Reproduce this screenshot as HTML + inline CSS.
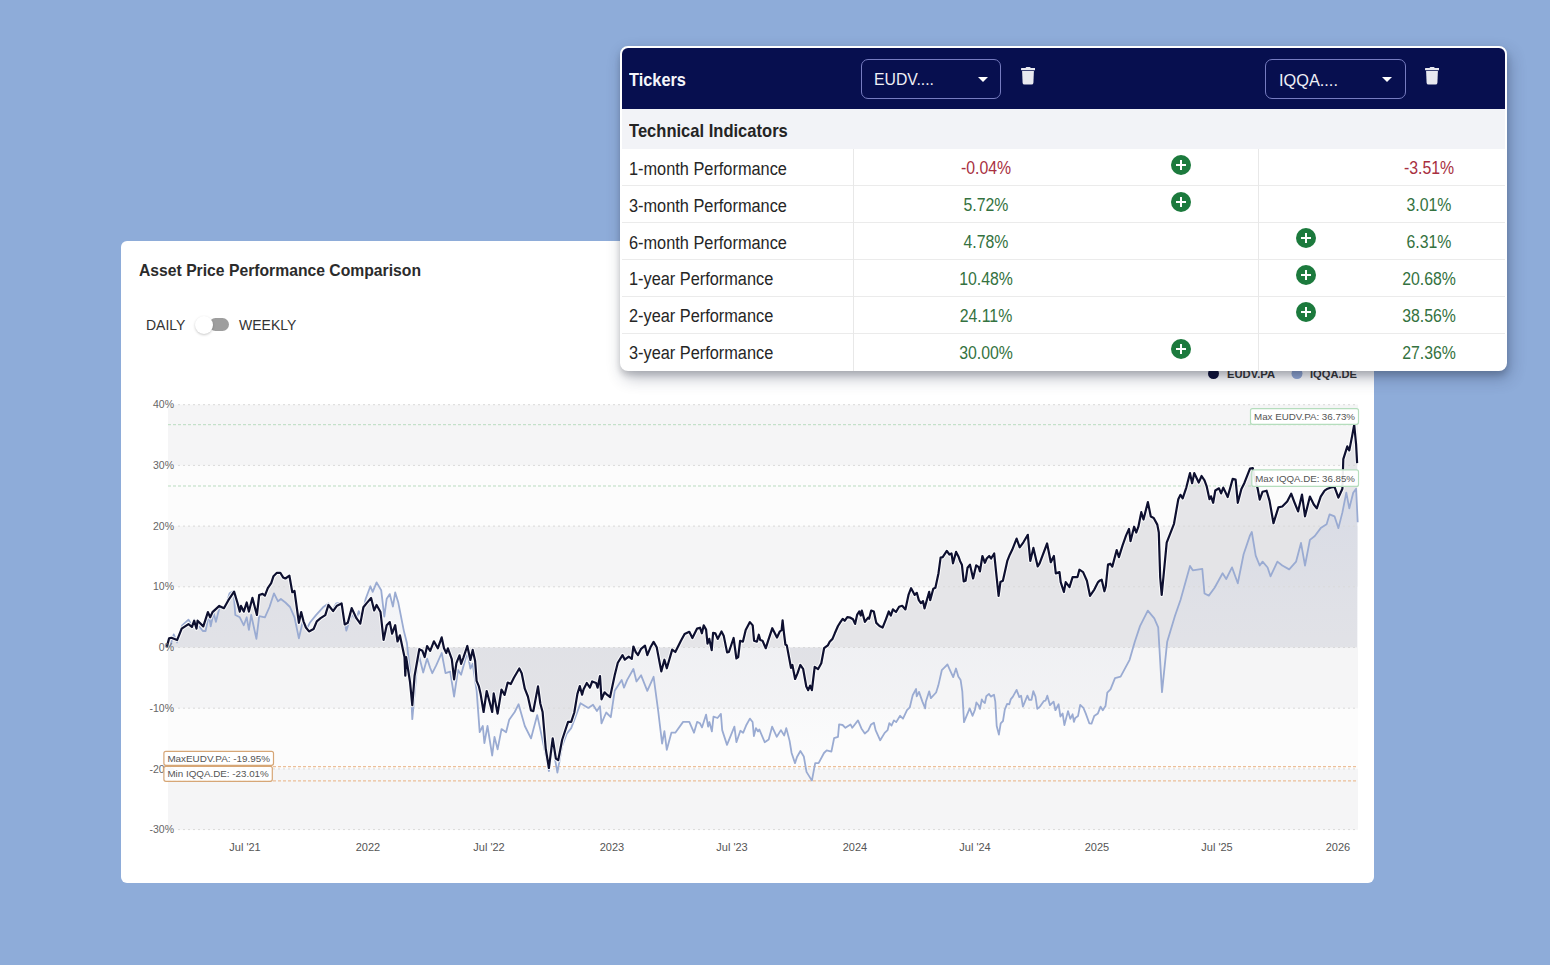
<!DOCTYPE html>
<html><head><meta charset="utf-8">
<style>
html,body{margin:0;padding:0;}
body{width:1550px;height:965px;background:#8eacd9;position:relative;overflow:hidden;font-family:"Liberation Sans",sans-serif;}
.abs{position:absolute;}
#chart{left:121px;top:241px;width:1253px;height:642px;background:#fff;border-radius:6px;}
#ctitle{left:139px;top:261px;font-size:16.5px;font-weight:bold;color:#2b2b2b;white-space:nowrap;transform:scaleX(0.952);transform-origin:0 0;}
.tog{font-size:14px;color:#333;white-space:nowrap;}
#track{left:209px;top:318px;width:20px;height:13px;border-radius:7px;background:#9e9e9e;}
#knob{left:194.5px;top:315.5px;width:18px;height:18px;border-radius:50%;background:#fff;box-shadow:0 1px 2.5px rgba(0,0,0,.22);}
#plot{left:0;top:0;}
#table{left:620px;top:46px;width:883px;height:321px;background:#fff;border:2px solid #fff;border-radius:8px;box-shadow:3px 7px 16px rgba(30,40,70,.30),0 4px 6px rgba(0,0,0,.16);overflow:hidden;}
#thead{left:0;top:0;width:885px;height:62px;background:#070f4f;}
.tl{font-size:17.5px;color:#1e1e1e;white-space:nowrap;}
.sel{border:1px solid #767cc0;border-radius:7px;height:38px;}
.selt{font-size:17px;color:#f4f4f8;white-space:nowrap;}
.arr{width:0;height:0;border-left:5px solid transparent;border-right:5px solid transparent;border-top:5px solid #fff;}
.row{left:0;width:885px;height:1px;background:#ececec;}
.val{font-size:17.5px;white-space:nowrap;text-align:center;width:120px;}
.g{color:#2e7d32;}
.r{color:#c62828;}
.plus{width:20px;height:20px;border-radius:50%;background:#1c7a3d;}
.plus:before{content:"";position:absolute;left:5px;top:9px;width:10px;height:2px;background:#fff;}
.plus:after{content:"";position:absolute;left:9px;top:5px;width:2px;height:10px;background:#fff;}
</style></head>
<body>
<div id="chart" class="abs"></div>
<div id="ctitle" class="abs">Asset Price Performance Comparison</div>
<div class="abs tog" style="left:146px;top:317px;">DAILY</div>
<div id="track" class="abs"></div>
<div id="knob" class="abs"></div>
<div class="abs tog" style="left:239px;top:317px;">WEEKLY</div>

<!--PLOT-->
<svg class="abs" style="left:0;top:0" width="1550" height="965" viewBox="0 0 1550 965">
<defs><linearGradient id="bg" x1="0" y1="0" x2="0" y2="1"><stop offset="0" stop-color="#f5f5f6"/><stop offset="0.3" stop-color="#f7f7f8"/><stop offset="0.42" stop-color="#fafafb"/><stop offset="0.56" stop-color="#fcfcfc"/><stop offset="0.65" stop-color="#f8f8f9"/><stop offset="0.75" stop-color="#fbfbfb"/><stop offset="0.86" stop-color="#f8f8f8"/><stop offset="1" stop-color="#f4f4f5"/></linearGradient><linearGradient id="ar" x1="0" y1="0" x2="0" y2="1" gradientUnits="userSpaceOnUse" x1="0" y1="420" x2="0" y2="780"></linearGradient></defs>
<rect x="168" y="404.7" width="1190" height="424.9" fill="#fcfcfc"/>
<rect x="168" y="404.7" width="1190" height="60.7" fill="#f5f5f6"/>
<rect x="168" y="526.1" width="1190" height="60.7" fill="#f5f5f6"/>
<rect x="168" y="647.5" width="1190" height="60.7" fill="#f5f5f6"/>
<rect x="168" y="768.9" width="1190" height="60.7" fill="#f5f5f6"/>
<polygon points="166.8,647.5 166.8,646.9 169.1,638.4 171.4,637.8 177.1,640.1 181.7,628.7 188.5,624.1 191.9,627.0 194.2,620.7 196.5,628.7 197.6,620.7 203.3,626.4 207.9,612.1 210.2,617.3 212.5,612.1 219.3,605.9 223.9,608.2 228.4,600.2 234.1,591.6 237.5,603.0 239.8,611.6 241.0,605.9 243.8,611.6 246.7,602.5 248.9,611.6 252.4,597.9 256.9,615.0 259.2,595.0 262.6,593.9 264.9,595.6 267.8,588.2 271.2,583.1 273.5,576.2 276.9,572.8 280.3,572.8 283.1,577.4 285.4,578.5 289.4,575.7 292.3,592.2 294.5,591.0 298.9,622.8 301.2,612.0 303.5,621.3 305.9,627.5 309.0,631.4 313.6,629.0 316.8,621.3 320.6,618.2 325.3,615.1 328.4,605.0 333.1,611.2 337.0,605.7 341.6,603.4 344.7,624.4 347.8,622.8 351.7,608.1 356.4,618.2 360.3,623.6 363.4,607.3 366.5,603.4 371.1,598.0 374.2,610.4 376.6,605.0 380.5,612.0 383.6,639.9 386.7,625.2 389.8,622.1 392.1,633.7 395.2,625.2 397.5,641.5 399.9,635.3 404.5,657.0 405.3,675.7 406.1,657.0 410.0,681.9 412.3,705.2 414.6,675.7 419.3,649.2 422.4,650.8 424.7,657.0 427.1,646.1 430.2,650.8 433.9,641.3 437.8,648.3 441.7,637.4 444.0,648.3 446.3,653.0 447.9,648.3 451.8,659.2 454.1,679.4 456.4,663.1 459.5,655.3 461.1,663.8 463.4,657.6 467.3,646.0 470.4,660.0 472.7,649.9 475.1,660.7 476.6,680.9 478.9,686.4 480.5,693.4 483.6,712.0 486.7,691.0 489.8,702.7 492.2,712.0 493.7,693.4 497.6,713.6 501.5,689.5 504.6,694.9 507.7,682.5 510.8,684.0 513.9,677.8 519.3,668.5 521.7,673.2 524.8,688.7 527.9,696.5 531.0,710.5 533.3,711.2 538.0,686.4 540.3,703.5 542.6,712.0 545.8,749.3 548.9,768.0 552.7,738.4 555.9,758.6 558.2,760.2 562.1,740.0 566.7,726.0 568.1,721.9 571.2,721.9 574.3,712.5 577.4,693.9 579.8,686.1 582.1,694.7 583.6,689.2 586.8,683.0 589.9,687.7 592.2,681.5 596.1,683.0 597.6,687.7 600.0,676.0 601.5,699.3 604.6,692.3 607.0,694.7 610.1,697.0 614.7,675.3 617.8,662.8 622.5,655.1 624.8,659.7 628.7,656.6 631.8,658.9 633.4,646.5 635.7,652.0 638.0,655.1 641.1,648.8 645.0,645.7 647.3,655.1 650.5,647.3 653.6,641.9 656.7,647.3 661.3,671.4 664.4,659.7 666.8,668.3 672.2,649.6 675.3,652.0 680.8,641.1 684.6,634.1 689.3,631.8 692.4,638.0 697.1,628.6 700.0,627.7 701.9,633.3 703.7,625.4 706.1,629.6 707.5,643.6 709.3,638.9 711.7,650.1 713.1,632.9 715.4,633.3 717.7,638.9 721.5,631.5 723.8,636.1 727.1,652.4 728.9,652.0 733.6,638.0 736.4,658.5 738.2,657.1 740.1,640.8 742.9,641.7 745.7,630.1 749.9,622.1 752.7,625.4 754.1,640.8 756.9,641.7 758.8,634.7 760.2,639.9 762.5,640.8 765.8,648.2 768.1,640.8 772.3,628.2 777.0,637.5 779.8,631.5 781.6,630.1 782.6,620.3 784.0,633.3 785.4,644.5 786.8,645.4 791.0,667.8 792.4,665.0 795.1,679.0 797.5,673.4 800.3,665.0 803.1,668.8 806.3,686.5 808.2,690.2 810.1,685.6 811.9,690.2 814.7,666.9 818.0,669.2 821.3,663.2 824.1,648.2 827.8,645.4 829.7,641.7 832.5,638.9 834.8,633.3 838.0,626.0 840.6,621.9 842.7,618.8 844.7,620.8 847.3,617.2 850.4,617.7 853.0,619.3 855.1,623.9 857.2,614.6 859.2,611.5 860.8,615.6 861.8,610.5 864.9,621.9 868.1,617.7 869.1,618.8 871.2,610.5 873.8,611.5 876.3,622.9 879.5,626.0 882.6,627.6 885.7,619.8 888.8,611.5 890.8,615.6 892.9,609.4 896.0,612.0 899.1,606.8 902.2,605.8 905.4,609.4 908.5,594.9 911.1,588.2 914.7,594.9 916.8,592.8 918.8,600.1 920.9,603.2 923.0,601.1 924.5,608.4 929.2,591.8 930.2,600.1 933.3,588.7 935.4,587.7 938.5,573.2 940.6,557.6 942.7,557.1 946.8,550.9 949.4,554.5 951.5,553.5 953.0,563.3 956.1,551.9 958.7,557.1 960.0,560.9 961.9,564.7 963.7,581.5 965.6,580.8 967.5,567.8 970.0,564.7 973.1,578.4 976.2,565.3 978.7,567.2 979.9,571.5 982.4,556.0 984.9,562.8 986.7,558.5 989.2,556.0 991.1,558.5 994.2,553.5 996.1,572.1 998.6,595.8 1000.4,582.1 1002.9,580.8 1007.3,560.9 1009.8,554.7 1012.2,549.8 1016.6,538.6 1019.7,547.3 1023.4,542.3 1027.8,534.8 1030.3,560.9 1033.4,547.9 1037.7,566.5 1039.6,563.4 1047.1,543.5 1050.8,562.2 1053.9,556.0 1055.8,573.4 1059.5,572.1 1060.7,582.1 1063.9,592.0 1065.7,582.1 1069.5,587.1 1072.6,577.1 1077.5,577.1 1079.4,569.7 1083.1,572.1 1086.9,580.8 1090.0,595.8 1094.3,589.6 1098.1,582.1 1100.0,580.4 1101.7,579.7 1104.4,591.3 1105.8,586.2 1108.0,564.5 1110.2,563.7 1112.3,566.6 1116.7,550.0 1118.9,557.2 1122.5,545.6 1126.1,535.4 1129.0,528.9 1130.5,541.2 1134.1,526.7 1136.3,532.5 1138.4,526.7 1141.3,512.2 1143.5,519.5 1147.9,502.1 1150.8,516.6 1153.7,518.0 1157.3,524.6 1158.8,532.5 1160.2,577.5 1161.7,594.9 1163.8,573.2 1166.7,542.7 1174.0,523.8 1178.3,499.2 1180.5,494.8 1182.7,498.4 1186.3,487.6 1190.0,473.1 1192.1,483.2 1194.3,473.1 1198.7,482.5 1201.6,476.0 1204.5,480.3 1206.6,486.1 1209.5,499.2 1211.0,496.3 1213.2,502.8 1215.3,490.5 1219.0,488.3 1221.1,493.4 1223.3,487.6 1227.7,497.0 1232.7,478.9 1235.6,479.6 1237.8,502.8 1241.4,489.0 1244.3,483.2 1250.0,468.7 1252.8,468.1 1255.0,480.0 1257.7,488.7 1259.7,499.6 1262.6,491.7 1266.6,490.7 1269.5,500.6 1273.5,523.2 1278.4,507.4 1282.3,506.5 1287.2,501.5 1291.2,493.7 1294.1,501.5 1298.1,511.4 1302.0,494.6 1305.0,516.3 1309.9,496.6 1313.8,504.5 1316.8,508.4 1320.7,496.6 1324.6,490.7 1327.6,488.7 1331.0,487.5 1334.5,486.8 1338.4,497.6 1342.4,488.7 1343.3,459.2 1347.3,446.4 1349.3,450.4 1352.2,435.6 1354.2,424.8 1356.1,444.4 1357.1,463.1 1357.1,647.5" fill="#e2e2e6" fill-opacity="0.9"/>
<linearGradient id="ag" gradientUnits="userSpaceOnUse" x1="0" y1="486" x2="0" y2="781"><stop offset="0" stop-color="#b8c4e2" stop-opacity="0.28"/><stop offset="0.55" stop-color="#c8cee0" stop-opacity="0.12"/><stop offset="1" stop-color="#d0d4e0" stop-opacity="0"/></linearGradient>
<polygon points="166.8,647.5 166.8,647.0 170.3,645.8 173.7,634.4 177.1,642.4 182.2,625.3 188.5,619.6 193.1,627.5 194.2,619.6 202.8,631.0 205.6,631.0 209.0,613.9 210.7,626.4 213.6,612.7 215.9,621.8 219.3,608.2 225.0,608.2 229.6,593.3 233.5,591.0 235.3,615.0 239.8,617.3 243.8,625.3 246.7,617.3 248.9,629.8 251.2,615.0 256.4,638.9 259.2,616.1 264.9,617.3 269.5,607.0 274.0,593.3 278.0,601.3 280.9,599.0 285.4,602.5 290.0,607.0 294.5,617.3 298.9,638.4 302.8,621.3 307.4,627.5 309.8,622.8 316.0,615.1 323.0,607.3 328.4,603.4 332.3,610.4 336.2,603.4 341.6,602.6 346.3,630.6 351.7,614.3 356.4,619.7 358.7,611.2 361.8,616.6 365.7,598.7 370.4,586.3 372.7,591.8 376.6,582.4 381.2,590.2 384.3,616.6 386.7,598.7 389.8,594.1 392.9,606.5 395.2,592.5 398.3,602.6 403.8,630.6 406.9,643.0 410.0,671.0 412.3,719.2 417.0,666.3 419.3,657.0 423.2,672.5 427.1,658.6 430.2,668.0 432.3,673.2 436.2,665.4 441.7,653.0 445.5,673.2 450.2,671.6 454.1,696.5 458.0,670.0 461.1,674.7 467.3,652.2 470.4,668.5 472.7,663.8 476.6,690.3 479.7,732.2 482.8,726.0 484.4,743.1 487.5,726.0 492.2,755.5 494.5,736.9 497.6,749.3 501.5,729.1 506.1,732.2 509.2,719.8 514.7,712.0 518.6,704.2 524.8,726.0 531.0,738.4 537.2,715.1 541.9,736.9 545.8,755.5 548.9,771.1 552.7,746.2 557.4,772.6 562.1,746.2 566.7,733.8 571.2,728.1 575.9,715.7 580.5,703.2 588.3,707.9 593.0,704.8 596.9,711.0 600.0,706.3 601.5,723.4 606.2,712.5 610.8,717.2 614.7,690.8 621.7,679.9 624.0,687.7 627.2,679.9 633.4,669.0 636.5,681.5 641.1,675.3 647.3,690.8 653.6,676.8 658.2,711.0 662.1,743.6 664.4,731.2 666.8,749.8 671.4,732.7 675.3,732.7 683.1,721.9 689.3,721.9 694.0,732.7 697.1,721.9 700.0,723.3 702.0,727.4 706.1,714.6 708.1,726.7 709.4,722.0 711.9,731.4 713.5,716.6 717.5,718.0 720.9,713.9 722.2,730.1 727.0,744.9 734.4,726.7 736.4,742.2 740.4,730.8 743.1,732.8 746.5,724.7 749.9,718.6 752.6,722.0 753.9,736.1 755.9,728.1 758.0,731.4 759.3,729.4 764.7,742.2 768.7,739.5 772.1,726.7 776.8,736.8 780.9,730.1 784.2,735.5 786.3,728.1 789.6,740.9 791.6,753.0 795.0,763.1 797.0,757.0 800.4,751.0 803.8,756.4 806.5,771.9 811.9,780.6 815.2,763.1 818.6,763.1 824.0,753.0 826.7,750.3 831.4,751.6 834.1,738.2 838.0,736.9 839.1,724.4 842.6,725.0 845.4,727.8 850.5,724.4 852.3,727.8 858.0,720.4 861.4,728.4 864.8,733.5 868.2,730.6 871.1,724.4 873.9,722.7 875.6,730.1 880.2,740.3 884.7,732.9 887.6,730.1 889.3,723.2 891.6,725.5 893.9,720.4 896.2,722.1 900.1,715.8 903.0,718.7 907.0,710.1 909.8,707.3 912.7,695.3 916.1,689.0 916.7,696.4 919.0,691.9 922.4,701.6 925.2,708.4 925.8,702.1 929.2,691.3 930.9,698.2 936.1,692.5 938.3,685.6 941.8,670.2 944.6,667.4 947.5,664.5 950.3,670.8 953.2,677.1 956.0,668.5 958.3,676.5 960.6,679.9 962.3,691.3 964.0,722.1 966.8,715.3 969.7,708.4 972.5,715.8 975.0,709.7 976.4,702.5 978.6,705.2 980.0,708.8 981.8,699.4 983.1,701.6 984.9,703.0 986.3,696.2 989.0,693.9 990.8,696.6 994.0,694.8 995.3,701.6 996.7,726.0 998.9,734.6 1000.7,723.3 1003.0,721.0 1004.8,709.7 1007.1,703.9 1009.3,704.3 1010.7,699.4 1012.9,696.6 1016.6,689.9 1019.3,697.1 1021.1,695.7 1022.9,706.6 1027.4,695.7 1029.2,699.8 1031.5,699.8 1033.3,691.2 1035.5,696.6 1037.3,708.8 1040.0,706.6 1043.7,701.2 1045.5,700.7 1047.3,695.7 1050.0,705.2 1053.6,701.6 1055.4,710.2 1058.6,704.3 1060.4,716.5 1062.6,713.4 1064.4,725.1 1068.0,711.1 1070.3,718.8 1072.6,714.3 1073.9,721.9 1075.3,717.9 1078.0,716.1 1080.2,704.8 1083.4,707.9 1085.7,713.4 1089.3,723.3 1091.5,723.7 1094.2,716.1 1097.9,713.4 1100.6,706.6 1102.8,710.2 1105.5,706.1 1107.3,692.6 1110.5,689.4 1115.0,678.1 1120.6,676.7 1129.6,659.8 1134.8,641.7 1140.0,626.1 1147.8,610.6 1154.3,618.3 1158.2,627.4 1162.0,692.2 1167.2,641.7 1175.0,615.7 1180.5,600.0 1190.0,565.9 1192.8,570.3 1202.3,568.8 1204.5,593.5 1208.8,595.6 1214.6,587.7 1222.6,573.2 1226.2,579.0 1232.0,567.4 1237.8,583.3 1243.6,554.3 1250.0,535.4 1251.8,532.0 1255.7,555.7 1259.7,565.5 1262.6,561.6 1267.6,567.5 1270.5,576.3 1277.4,561.6 1282.3,565.5 1289.2,569.4 1296.1,561.6 1301.0,542.9 1305.0,565.5 1309.9,539.9 1314.8,536.0 1320.7,528.1 1326.6,524.2 1329.6,514.3 1334.5,516.3 1338.4,528.1 1342.4,512.4 1346.3,492.7 1349.3,508.4 1353.2,492.7 1356.1,488.7 1357.7,522.2 1357.7,647.5" fill="url(#ag)"/>
<line x1="178" y1="404.7" x2="1358" y2="404.7" stroke="#d9d9d9" stroke-width="1" stroke-dasharray="2,3"/>
<line x1="178" y1="465.4" x2="1358" y2="465.4" stroke="#d9d9d9" stroke-width="1" stroke-dasharray="2,3"/>
<line x1="178" y1="526.1" x2="1358" y2="526.1" stroke="#d9d9d9" stroke-width="1" stroke-dasharray="2,3"/>
<line x1="178" y1="586.8" x2="1358" y2="586.8" stroke="#d9d9d9" stroke-width="1" stroke-dasharray="2,3"/>
<line x1="178" y1="647.5" x2="1358" y2="647.5" stroke="#d9d9d9" stroke-width="1" stroke-dasharray="2,3"/>
<line x1="178" y1="708.2" x2="1358" y2="708.2" stroke="#d9d9d9" stroke-width="1" stroke-dasharray="2,3"/>
<line x1="178" y1="768.9" x2="1358" y2="768.9" stroke="#d9d9d9" stroke-width="1" stroke-dasharray="2,3"/>
<line x1="178" y1="829.6" x2="1358" y2="829.6" stroke="#d9d9d9" stroke-width="1" stroke-dasharray="2,3"/>
<line x1="168" y1="424.7" x2="1358" y2="424.7" stroke="#b9dcbf" stroke-width="1" stroke-dasharray="3,2"/>
<line x1="168" y1="486.0" x2="1358" y2="486.0" stroke="#b9dcbf" stroke-width="1" stroke-dasharray="3,2"/>
<line x1="168" y1="766.6" x2="1358" y2="766.6" stroke="#ecbf98" stroke-width="1.2" stroke-dasharray="3,2"/>
<line x1="168" y1="780.8" x2="1358" y2="780.8" stroke="#ecbf98" stroke-width="1.2" stroke-dasharray="3,2"/>
<polyline points="166.8,647.0 170.3,645.8 173.7,634.4 177.1,642.4 182.2,625.3 188.5,619.6 193.1,627.5 194.2,619.6 202.8,631.0 205.6,631.0 209.0,613.9 210.7,626.4 213.6,612.7 215.9,621.8 219.3,608.2 225.0,608.2 229.6,593.3 233.5,591.0 235.3,615.0 239.8,617.3 243.8,625.3 246.7,617.3 248.9,629.8 251.2,615.0 256.4,638.9 259.2,616.1 264.9,617.3 269.5,607.0 274.0,593.3 278.0,601.3 280.9,599.0 285.4,602.5 290.0,607.0 294.5,617.3 298.9,638.4 302.8,621.3 307.4,627.5 309.8,622.8 316.0,615.1 323.0,607.3 328.4,603.4 332.3,610.4 336.2,603.4 341.6,602.6 346.3,630.6 351.7,614.3 356.4,619.7 358.7,611.2 361.8,616.6 365.7,598.7 370.4,586.3 372.7,591.8 376.6,582.4 381.2,590.2 384.3,616.6 386.7,598.7 389.8,594.1 392.9,606.5 395.2,592.5 398.3,602.6 403.8,630.6 406.9,643.0 410.0,671.0 412.3,719.2 417.0,666.3 419.3,657.0 423.2,672.5 427.1,658.6 430.2,668.0 432.3,673.2 436.2,665.4 441.7,653.0 445.5,673.2 450.2,671.6 454.1,696.5 458.0,670.0 461.1,674.7 467.3,652.2 470.4,668.5 472.7,663.8 476.6,690.3 479.7,732.2 482.8,726.0 484.4,743.1 487.5,726.0 492.2,755.5 494.5,736.9 497.6,749.3 501.5,729.1 506.1,732.2 509.2,719.8 514.7,712.0 518.6,704.2 524.8,726.0 531.0,738.4 537.2,715.1 541.9,736.9 545.8,755.5 548.9,771.1 552.7,746.2 557.4,772.6 562.1,746.2 566.7,733.8 571.2,728.1 575.9,715.7 580.5,703.2 588.3,707.9 593.0,704.8 596.9,711.0 600.0,706.3 601.5,723.4 606.2,712.5 610.8,717.2 614.7,690.8 621.7,679.9 624.0,687.7 627.2,679.9 633.4,669.0 636.5,681.5 641.1,675.3 647.3,690.8 653.6,676.8 658.2,711.0 662.1,743.6 664.4,731.2 666.8,749.8 671.4,732.7 675.3,732.7 683.1,721.9 689.3,721.9 694.0,732.7 697.1,721.9 700.0,723.3 702.0,727.4 706.1,714.6 708.1,726.7 709.4,722.0 711.9,731.4 713.5,716.6 717.5,718.0 720.9,713.9 722.2,730.1 727.0,744.9 734.4,726.7 736.4,742.2 740.4,730.8 743.1,732.8 746.5,724.7 749.9,718.6 752.6,722.0 753.9,736.1 755.9,728.1 758.0,731.4 759.3,729.4 764.7,742.2 768.7,739.5 772.1,726.7 776.8,736.8 780.9,730.1 784.2,735.5 786.3,728.1 789.6,740.9 791.6,753.0 795.0,763.1 797.0,757.0 800.4,751.0 803.8,756.4 806.5,771.9 811.9,780.6 815.2,763.1 818.6,763.1 824.0,753.0 826.7,750.3 831.4,751.6 834.1,738.2 838.0,736.9 839.1,724.4 842.6,725.0 845.4,727.8 850.5,724.4 852.3,727.8 858.0,720.4 861.4,728.4 864.8,733.5 868.2,730.6 871.1,724.4 873.9,722.7 875.6,730.1 880.2,740.3 884.7,732.9 887.6,730.1 889.3,723.2 891.6,725.5 893.9,720.4 896.2,722.1 900.1,715.8 903.0,718.7 907.0,710.1 909.8,707.3 912.7,695.3 916.1,689.0 916.7,696.4 919.0,691.9 922.4,701.6 925.2,708.4 925.8,702.1 929.2,691.3 930.9,698.2 936.1,692.5 938.3,685.6 941.8,670.2 944.6,667.4 947.5,664.5 950.3,670.8 953.2,677.1 956.0,668.5 958.3,676.5 960.6,679.9 962.3,691.3 964.0,722.1 966.8,715.3 969.7,708.4 972.5,715.8 975.0,709.7 976.4,702.5 978.6,705.2 980.0,708.8 981.8,699.4 983.1,701.6 984.9,703.0 986.3,696.2 989.0,693.9 990.8,696.6 994.0,694.8 995.3,701.6 996.7,726.0 998.9,734.6 1000.7,723.3 1003.0,721.0 1004.8,709.7 1007.1,703.9 1009.3,704.3 1010.7,699.4 1012.9,696.6 1016.6,689.9 1019.3,697.1 1021.1,695.7 1022.9,706.6 1027.4,695.7 1029.2,699.8 1031.5,699.8 1033.3,691.2 1035.5,696.6 1037.3,708.8 1040.0,706.6 1043.7,701.2 1045.5,700.7 1047.3,695.7 1050.0,705.2 1053.6,701.6 1055.4,710.2 1058.6,704.3 1060.4,716.5 1062.6,713.4 1064.4,725.1 1068.0,711.1 1070.3,718.8 1072.6,714.3 1073.9,721.9 1075.3,717.9 1078.0,716.1 1080.2,704.8 1083.4,707.9 1085.7,713.4 1089.3,723.3 1091.5,723.7 1094.2,716.1 1097.9,713.4 1100.6,706.6 1102.8,710.2 1105.5,706.1 1107.3,692.6 1110.5,689.4 1115.0,678.1 1120.6,676.7 1129.6,659.8 1134.8,641.7 1140.0,626.1 1147.8,610.6 1154.3,618.3 1158.2,627.4 1162.0,692.2 1167.2,641.7 1175.0,615.7 1180.5,600.0 1190.0,565.9 1192.8,570.3 1202.3,568.8 1204.5,593.5 1208.8,595.6 1214.6,587.7 1222.6,573.2 1226.2,579.0 1232.0,567.4 1237.8,583.3 1243.6,554.3 1250.0,535.4 1251.8,532.0 1255.7,555.7 1259.7,565.5 1262.6,561.6 1267.6,567.5 1270.5,576.3 1277.4,561.6 1282.3,565.5 1289.2,569.4 1296.1,561.6 1301.0,542.9 1305.0,565.5 1309.9,539.9 1314.8,536.0 1320.7,528.1 1326.6,524.2 1329.6,514.3 1334.5,516.3 1338.4,528.1 1342.4,512.4 1346.3,492.7 1349.3,508.4 1353.2,492.7 1356.1,488.7 1357.7,522.2" fill="none" stroke="#9aabd2" stroke-width="1.8" stroke-linejoin="round"/>
<polyline points="166.8,646.9 169.1,638.4 171.4,637.8 177.1,640.1 181.7,628.7 188.5,624.1 191.9,627.0 194.2,620.7 196.5,628.7 197.6,620.7 203.3,626.4 207.9,612.1 210.2,617.3 212.5,612.1 219.3,605.9 223.9,608.2 228.4,600.2 234.1,591.6 237.5,603.0 239.8,611.6 241.0,605.9 243.8,611.6 246.7,602.5 248.9,611.6 252.4,597.9 256.9,615.0 259.2,595.0 262.6,593.9 264.9,595.6 267.8,588.2 271.2,583.1 273.5,576.2 276.9,572.8 280.3,572.8 283.1,577.4 285.4,578.5 289.4,575.7 292.3,592.2 294.5,591.0 298.9,622.8 301.2,612.0 303.5,621.3 305.9,627.5 309.0,631.4 313.6,629.0 316.8,621.3 320.6,618.2 325.3,615.1 328.4,605.0 333.1,611.2 337.0,605.7 341.6,603.4 344.7,624.4 347.8,622.8 351.7,608.1 356.4,618.2 360.3,623.6 363.4,607.3 366.5,603.4 371.1,598.0 374.2,610.4 376.6,605.0 380.5,612.0 383.6,639.9 386.7,625.2 389.8,622.1 392.1,633.7 395.2,625.2 397.5,641.5 399.9,635.3 404.5,657.0 405.3,675.7 406.1,657.0 410.0,681.9 412.3,705.2 414.6,675.7 419.3,649.2 422.4,650.8 424.7,657.0 427.1,646.1 430.2,650.8 433.9,641.3 437.8,648.3 441.7,637.4 444.0,648.3 446.3,653.0 447.9,648.3 451.8,659.2 454.1,679.4 456.4,663.1 459.5,655.3 461.1,663.8 463.4,657.6 467.3,646.0 470.4,660.0 472.7,649.9 475.1,660.7 476.6,680.9 478.9,686.4 480.5,693.4 483.6,712.0 486.7,691.0 489.8,702.7 492.2,712.0 493.7,693.4 497.6,713.6 501.5,689.5 504.6,694.9 507.7,682.5 510.8,684.0 513.9,677.8 519.3,668.5 521.7,673.2 524.8,688.7 527.9,696.5 531.0,710.5 533.3,711.2 538.0,686.4 540.3,703.5 542.6,712.0 545.8,749.3 548.9,768.0 552.7,738.4 555.9,758.6 558.2,760.2 562.1,740.0 566.7,726.0 568.1,721.9 571.2,721.9 574.3,712.5 577.4,693.9 579.8,686.1 582.1,694.7 583.6,689.2 586.8,683.0 589.9,687.7 592.2,681.5 596.1,683.0 597.6,687.7 600.0,676.0 601.5,699.3 604.6,692.3 607.0,694.7 610.1,697.0 614.7,675.3 617.8,662.8 622.5,655.1 624.8,659.7 628.7,656.6 631.8,658.9 633.4,646.5 635.7,652.0 638.0,655.1 641.1,648.8 645.0,645.7 647.3,655.1 650.5,647.3 653.6,641.9 656.7,647.3 661.3,671.4 664.4,659.7 666.8,668.3 672.2,649.6 675.3,652.0 680.8,641.1 684.6,634.1 689.3,631.8 692.4,638.0 697.1,628.6 700.0,627.7 701.9,633.3 703.7,625.4 706.1,629.6 707.5,643.6 709.3,638.9 711.7,650.1 713.1,632.9 715.4,633.3 717.7,638.9 721.5,631.5 723.8,636.1 727.1,652.4 728.9,652.0 733.6,638.0 736.4,658.5 738.2,657.1 740.1,640.8 742.9,641.7 745.7,630.1 749.9,622.1 752.7,625.4 754.1,640.8 756.9,641.7 758.8,634.7 760.2,639.9 762.5,640.8 765.8,648.2 768.1,640.8 772.3,628.2 777.0,637.5 779.8,631.5 781.6,630.1 782.6,620.3 784.0,633.3 785.4,644.5 786.8,645.4 791.0,667.8 792.4,665.0 795.1,679.0 797.5,673.4 800.3,665.0 803.1,668.8 806.3,686.5 808.2,690.2 810.1,685.6 811.9,690.2 814.7,666.9 818.0,669.2 821.3,663.2 824.1,648.2 827.8,645.4 829.7,641.7 832.5,638.9 834.8,633.3 838.0,626.0 840.6,621.9 842.7,618.8 844.7,620.8 847.3,617.2 850.4,617.7 853.0,619.3 855.1,623.9 857.2,614.6 859.2,611.5 860.8,615.6 861.8,610.5 864.9,621.9 868.1,617.7 869.1,618.8 871.2,610.5 873.8,611.5 876.3,622.9 879.5,626.0 882.6,627.6 885.7,619.8 888.8,611.5 890.8,615.6 892.9,609.4 896.0,612.0 899.1,606.8 902.2,605.8 905.4,609.4 908.5,594.9 911.1,588.2 914.7,594.9 916.8,592.8 918.8,600.1 920.9,603.2 923.0,601.1 924.5,608.4 929.2,591.8 930.2,600.1 933.3,588.7 935.4,587.7 938.5,573.2 940.6,557.6 942.7,557.1 946.8,550.9 949.4,554.5 951.5,553.5 953.0,563.3 956.1,551.9 958.7,557.1 960.0,560.9 961.9,564.7 963.7,581.5 965.6,580.8 967.5,567.8 970.0,564.7 973.1,578.4 976.2,565.3 978.7,567.2 979.9,571.5 982.4,556.0 984.9,562.8 986.7,558.5 989.2,556.0 991.1,558.5 994.2,553.5 996.1,572.1 998.6,595.8 1000.4,582.1 1002.9,580.8 1007.3,560.9 1009.8,554.7 1012.2,549.8 1016.6,538.6 1019.7,547.3 1023.4,542.3 1027.8,534.8 1030.3,560.9 1033.4,547.9 1037.7,566.5 1039.6,563.4 1047.1,543.5 1050.8,562.2 1053.9,556.0 1055.8,573.4 1059.5,572.1 1060.7,582.1 1063.9,592.0 1065.7,582.1 1069.5,587.1 1072.6,577.1 1077.5,577.1 1079.4,569.7 1083.1,572.1 1086.9,580.8 1090.0,595.8 1094.3,589.6 1098.1,582.1 1100.0,580.4 1101.7,579.7 1104.4,591.3 1105.8,586.2 1108.0,564.5 1110.2,563.7 1112.3,566.6 1116.7,550.0 1118.9,557.2 1122.5,545.6 1126.1,535.4 1129.0,528.9 1130.5,541.2 1134.1,526.7 1136.3,532.5 1138.4,526.7 1141.3,512.2 1143.5,519.5 1147.9,502.1 1150.8,516.6 1153.7,518.0 1157.3,524.6 1158.8,532.5 1160.2,577.5 1161.7,594.9 1163.8,573.2 1166.7,542.7 1174.0,523.8 1178.3,499.2 1180.5,494.8 1182.7,498.4 1186.3,487.6 1190.0,473.1 1192.1,483.2 1194.3,473.1 1198.7,482.5 1201.6,476.0 1204.5,480.3 1206.6,486.1 1209.5,499.2 1211.0,496.3 1213.2,502.8 1215.3,490.5 1219.0,488.3 1221.1,493.4 1223.3,487.6 1227.7,497.0 1232.7,478.9 1235.6,479.6 1237.8,502.8 1241.4,489.0 1244.3,483.2 1250.0,468.7 1252.8,468.1 1255.0,480.0 1257.7,488.7 1259.7,499.6 1262.6,491.7 1266.6,490.7 1269.5,500.6 1273.5,523.2 1278.4,507.4 1282.3,506.5 1287.2,501.5 1291.2,493.7 1294.1,501.5 1298.1,511.4 1302.0,494.6 1305.0,516.3 1309.9,496.6 1313.8,504.5 1316.8,508.4 1320.7,496.6 1324.6,490.7 1327.6,488.7 1331.0,487.5 1334.5,486.8 1338.4,497.6 1342.4,488.7 1343.3,459.2 1347.3,446.4 1349.3,450.4 1352.2,435.6 1354.2,424.8 1356.1,444.4 1357.1,463.1" fill="none" stroke="#ffffff" stroke-opacity="0.85" stroke-width="4.2" stroke-linejoin="round"/>
<polyline points="166.8,646.9 169.1,638.4 171.4,637.8 177.1,640.1 181.7,628.7 188.5,624.1 191.9,627.0 194.2,620.7 196.5,628.7 197.6,620.7 203.3,626.4 207.9,612.1 210.2,617.3 212.5,612.1 219.3,605.9 223.9,608.2 228.4,600.2 234.1,591.6 237.5,603.0 239.8,611.6 241.0,605.9 243.8,611.6 246.7,602.5 248.9,611.6 252.4,597.9 256.9,615.0 259.2,595.0 262.6,593.9 264.9,595.6 267.8,588.2 271.2,583.1 273.5,576.2 276.9,572.8 280.3,572.8 283.1,577.4 285.4,578.5 289.4,575.7 292.3,592.2 294.5,591.0 298.9,622.8 301.2,612.0 303.5,621.3 305.9,627.5 309.0,631.4 313.6,629.0 316.8,621.3 320.6,618.2 325.3,615.1 328.4,605.0 333.1,611.2 337.0,605.7 341.6,603.4 344.7,624.4 347.8,622.8 351.7,608.1 356.4,618.2 360.3,623.6 363.4,607.3 366.5,603.4 371.1,598.0 374.2,610.4 376.6,605.0 380.5,612.0 383.6,639.9 386.7,625.2 389.8,622.1 392.1,633.7 395.2,625.2 397.5,641.5 399.9,635.3 404.5,657.0 405.3,675.7 406.1,657.0 410.0,681.9 412.3,705.2 414.6,675.7 419.3,649.2 422.4,650.8 424.7,657.0 427.1,646.1 430.2,650.8 433.9,641.3 437.8,648.3 441.7,637.4 444.0,648.3 446.3,653.0 447.9,648.3 451.8,659.2 454.1,679.4 456.4,663.1 459.5,655.3 461.1,663.8 463.4,657.6 467.3,646.0 470.4,660.0 472.7,649.9 475.1,660.7 476.6,680.9 478.9,686.4 480.5,693.4 483.6,712.0 486.7,691.0 489.8,702.7 492.2,712.0 493.7,693.4 497.6,713.6 501.5,689.5 504.6,694.9 507.7,682.5 510.8,684.0 513.9,677.8 519.3,668.5 521.7,673.2 524.8,688.7 527.9,696.5 531.0,710.5 533.3,711.2 538.0,686.4 540.3,703.5 542.6,712.0 545.8,749.3 548.9,768.0 552.7,738.4 555.9,758.6 558.2,760.2 562.1,740.0 566.7,726.0 568.1,721.9 571.2,721.9 574.3,712.5 577.4,693.9 579.8,686.1 582.1,694.7 583.6,689.2 586.8,683.0 589.9,687.7 592.2,681.5 596.1,683.0 597.6,687.7 600.0,676.0 601.5,699.3 604.6,692.3 607.0,694.7 610.1,697.0 614.7,675.3 617.8,662.8 622.5,655.1 624.8,659.7 628.7,656.6 631.8,658.9 633.4,646.5 635.7,652.0 638.0,655.1 641.1,648.8 645.0,645.7 647.3,655.1 650.5,647.3 653.6,641.9 656.7,647.3 661.3,671.4 664.4,659.7 666.8,668.3 672.2,649.6 675.3,652.0 680.8,641.1 684.6,634.1 689.3,631.8 692.4,638.0 697.1,628.6 700.0,627.7 701.9,633.3 703.7,625.4 706.1,629.6 707.5,643.6 709.3,638.9 711.7,650.1 713.1,632.9 715.4,633.3 717.7,638.9 721.5,631.5 723.8,636.1 727.1,652.4 728.9,652.0 733.6,638.0 736.4,658.5 738.2,657.1 740.1,640.8 742.9,641.7 745.7,630.1 749.9,622.1 752.7,625.4 754.1,640.8 756.9,641.7 758.8,634.7 760.2,639.9 762.5,640.8 765.8,648.2 768.1,640.8 772.3,628.2 777.0,637.5 779.8,631.5 781.6,630.1 782.6,620.3 784.0,633.3 785.4,644.5 786.8,645.4 791.0,667.8 792.4,665.0 795.1,679.0 797.5,673.4 800.3,665.0 803.1,668.8 806.3,686.5 808.2,690.2 810.1,685.6 811.9,690.2 814.7,666.9 818.0,669.2 821.3,663.2 824.1,648.2 827.8,645.4 829.7,641.7 832.5,638.9 834.8,633.3 838.0,626.0 840.6,621.9 842.7,618.8 844.7,620.8 847.3,617.2 850.4,617.7 853.0,619.3 855.1,623.9 857.2,614.6 859.2,611.5 860.8,615.6 861.8,610.5 864.9,621.9 868.1,617.7 869.1,618.8 871.2,610.5 873.8,611.5 876.3,622.9 879.5,626.0 882.6,627.6 885.7,619.8 888.8,611.5 890.8,615.6 892.9,609.4 896.0,612.0 899.1,606.8 902.2,605.8 905.4,609.4 908.5,594.9 911.1,588.2 914.7,594.9 916.8,592.8 918.8,600.1 920.9,603.2 923.0,601.1 924.5,608.4 929.2,591.8 930.2,600.1 933.3,588.7 935.4,587.7 938.5,573.2 940.6,557.6 942.7,557.1 946.8,550.9 949.4,554.5 951.5,553.5 953.0,563.3 956.1,551.9 958.7,557.1 960.0,560.9 961.9,564.7 963.7,581.5 965.6,580.8 967.5,567.8 970.0,564.7 973.1,578.4 976.2,565.3 978.7,567.2 979.9,571.5 982.4,556.0 984.9,562.8 986.7,558.5 989.2,556.0 991.1,558.5 994.2,553.5 996.1,572.1 998.6,595.8 1000.4,582.1 1002.9,580.8 1007.3,560.9 1009.8,554.7 1012.2,549.8 1016.6,538.6 1019.7,547.3 1023.4,542.3 1027.8,534.8 1030.3,560.9 1033.4,547.9 1037.7,566.5 1039.6,563.4 1047.1,543.5 1050.8,562.2 1053.9,556.0 1055.8,573.4 1059.5,572.1 1060.7,582.1 1063.9,592.0 1065.7,582.1 1069.5,587.1 1072.6,577.1 1077.5,577.1 1079.4,569.7 1083.1,572.1 1086.9,580.8 1090.0,595.8 1094.3,589.6 1098.1,582.1 1100.0,580.4 1101.7,579.7 1104.4,591.3 1105.8,586.2 1108.0,564.5 1110.2,563.7 1112.3,566.6 1116.7,550.0 1118.9,557.2 1122.5,545.6 1126.1,535.4 1129.0,528.9 1130.5,541.2 1134.1,526.7 1136.3,532.5 1138.4,526.7 1141.3,512.2 1143.5,519.5 1147.9,502.1 1150.8,516.6 1153.7,518.0 1157.3,524.6 1158.8,532.5 1160.2,577.5 1161.7,594.9 1163.8,573.2 1166.7,542.7 1174.0,523.8 1178.3,499.2 1180.5,494.8 1182.7,498.4 1186.3,487.6 1190.0,473.1 1192.1,483.2 1194.3,473.1 1198.7,482.5 1201.6,476.0 1204.5,480.3 1206.6,486.1 1209.5,499.2 1211.0,496.3 1213.2,502.8 1215.3,490.5 1219.0,488.3 1221.1,493.4 1223.3,487.6 1227.7,497.0 1232.7,478.9 1235.6,479.6 1237.8,502.8 1241.4,489.0 1244.3,483.2 1250.0,468.7 1252.8,468.1 1255.0,480.0 1257.7,488.7 1259.7,499.6 1262.6,491.7 1266.6,490.7 1269.5,500.6 1273.5,523.2 1278.4,507.4 1282.3,506.5 1287.2,501.5 1291.2,493.7 1294.1,501.5 1298.1,511.4 1302.0,494.6 1305.0,516.3 1309.9,496.6 1313.8,504.5 1316.8,508.4 1320.7,496.6 1324.6,490.7 1327.6,488.7 1331.0,487.5 1334.5,486.8 1338.4,497.6 1342.4,488.7 1343.3,459.2 1347.3,446.4 1349.3,450.4 1352.2,435.6 1354.2,424.8 1356.1,444.4 1357.1,463.1" fill="none" stroke="#0e1030" stroke-width="2.2" stroke-linejoin="round"/>
<text x="174" y="408.3" text-anchor="end" font-family="Liberation Sans" font-size="10.5" fill="#666">40%</text>
<text x="174" y="469.0" text-anchor="end" font-family="Liberation Sans" font-size="10.5" fill="#666">30%</text>
<text x="174" y="529.7" text-anchor="end" font-family="Liberation Sans" font-size="10.5" fill="#666">20%</text>
<text x="174" y="590.4" text-anchor="end" font-family="Liberation Sans" font-size="10.5" fill="#666">10%</text>
<text x="174" y="651.1" text-anchor="end" font-family="Liberation Sans" font-size="10.5" fill="#666">0%</text>
<text x="174" y="711.8" text-anchor="end" font-family="Liberation Sans" font-size="10.5" fill="#666">-10%</text>
<text x="174" y="772.5" text-anchor="end" font-family="Liberation Sans" font-size="10.5" fill="#666">-20%</text>
<text x="174" y="833.2" text-anchor="end" font-family="Liberation Sans" font-size="10.5" fill="#666">-30%</text>
<text x="245" y="851" text-anchor="middle" font-family="Liberation Sans" font-size="11" fill="#555">Jul '21</text>
<text x="368" y="851" text-anchor="middle" font-family="Liberation Sans" font-size="11" fill="#555">2022</text>
<text x="489" y="851" text-anchor="middle" font-family="Liberation Sans" font-size="11" fill="#555">Jul '22</text>
<text x="612" y="851" text-anchor="middle" font-family="Liberation Sans" font-size="11" fill="#555">2023</text>
<text x="732" y="851" text-anchor="middle" font-family="Liberation Sans" font-size="11" fill="#555">Jul '23</text>
<text x="855" y="851" text-anchor="middle" font-family="Liberation Sans" font-size="11" fill="#555">2024</text>
<text x="975" y="851" text-anchor="middle" font-family="Liberation Sans" font-size="11" fill="#555">Jul '24</text>
<text x="1097" y="851" text-anchor="middle" font-family="Liberation Sans" font-size="11" fill="#555">2025</text>
<text x="1217" y="851" text-anchor="middle" font-family="Liberation Sans" font-size="11" fill="#555">Jul '25</text>
<text x="1338" y="851" text-anchor="middle" font-family="Liberation Sans" font-size="11" fill="#555">2026</text>
<rect x="1250.5" y="408.7" width="108.0" height="15.6" rx="2" fill="#fff" fill-opacity="0.92" stroke="#b5ddbd" stroke-width="1.2"/><text x="1254.0" y="419.9" font-family="Liberation Sans" font-size="9.6" fill="#555" textLength="101.0" lengthAdjust="spacingAndGlyphs">Max EUDV.PA: 36.73%</text>
<rect x="1251.8" y="469.8" width="106.7" height="16.6" rx="2" fill="#fff" fill-opacity="0.92" stroke="#b5ddbd" stroke-width="1.2"/><text x="1255.3" y="481.5" font-family="Liberation Sans" font-size="9.6" fill="#555" textLength="99.7" lengthAdjust="spacingAndGlyphs">Max IQQA.DE: 36.85%</text>
<rect x="163.9" y="751.3" width="109.6" height="14.0" rx="2" fill="#fff" fill-opacity="0.92" stroke="#d6a676" stroke-width="1.2"/><text x="167.4" y="761.7" font-family="Liberation Sans" font-size="9.6" fill="#555" textLength="102.6" lengthAdjust="spacingAndGlyphs">MaxEUDV.PA: -19.95%</text>
<rect x="163.9" y="766.3" width="108.4" height="15.0" rx="2" fill="#fff" fill-opacity="0.92" stroke="#d6a676" stroke-width="1.2"/><text x="167.4" y="777.2" font-family="Liberation Sans" font-size="9.6" fill="#555" textLength="101.4" lengthAdjust="spacingAndGlyphs">Min IQQA.DE: -23.01%</text>
<circle cx="1213.5" cy="373.6" r="5.5" fill="#0b0e35"/>
<text x="1227" y="377.5" font-family="Liberation Sans" font-size="11.5" font-weight="bold" fill="#333" textLength="48" lengthAdjust="spacingAndGlyphs">EUDV.PA</text>
<circle cx="1297" cy="373.6" r="5.5" fill="#93a9d6"/>
<text x="1310" y="377.5" font-family="Liberation Sans" font-size="11.5" font-weight="bold" fill="#333" textLength="47" lengthAdjust="spacingAndGlyphs">IQQA.DE</text>
</svg>
<!--/PLOT-->

<div id="table" class="abs">
  <div id="thead" class="abs"></div>
</div>
<!--TABLE-->
<div class="abs" style="left:622px;top:109px;width:883px;height:40px;background:#f2f3f7;"></div>
<div class="abs" style="left:628.5px;top:69.9px;font-size:19px;line-height:1;font-weight:bold;color:#f5f5fa;white-space:nowrap;transform:scaleX(0.86);transform-origin:0 0;">Tickers</div>
<div class="abs sel" style="left:861px;top:59px;width:138px;"></div>
<div class="abs" style="left:873.7px;top:71.0px;font-size:17.3px;line-height:1;font-weight:normal;color:#f0f0f6;white-space:nowrap;transform:scaleX(0.913);transform-origin:0 0;">EUDV....</div>
<div class="abs arr" style="left:977.5px;top:76.5px;"></div>
<div class="abs" style="left:1021px;top:67px;"><svg width="14" height="17.5" viewBox="0 0 14 17.5"><rect x="4.6" y="0" width="5" height="2" rx="1" fill="#e8e9f0"/><rect x="0" y="0.9" width="14.5" height="2.3" rx="0.6" fill="#e8e9f0"/><path d="M1.1,4.0 L12.9,4.0 L12.4,15.9 Q12.2,17.6 10.5,17.6 L3.5,17.6 Q1.8,17.6 1.6,15.9 Z" fill="#e8e9f0"/></svg></div>
<div class="abs sel" style="left:1265px;top:59px;width:139px;"></div>
<div class="abs" style="left:1278.6px;top:71.8px;font-size:17.3px;line-height:1;font-weight:normal;color:#f0f0f6;white-space:nowrap;transform:scaleX(0.944);transform-origin:0 0;">IQQA....</div>
<div class="abs arr" style="left:1381.5px;top:76.5px;"></div>
<div class="abs" style="left:1425px;top:67px;"><svg width="14" height="17.5" viewBox="0 0 14 17.5"><rect x="4.6" y="0" width="5" height="2" rx="1" fill="#e8e9f0"/><rect x="0" y="0.9" width="14.5" height="2.3" rx="0.6" fill="#e8e9f0"/><path d="M1.1,4.0 L12.9,4.0 L12.4,15.9 Q12.2,17.6 10.5,17.6 L3.5,17.6 Q1.8,17.6 1.6,15.9 Z" fill="#e8e9f0"/></svg></div>
<div class="abs" style="left:628.5px;top:121.6px;font-size:18.6px;line-height:1;font-weight:bold;color:#242424;white-space:nowrap;transform:scaleX(0.89);transform-origin:0 0;">Technical Indicators</div>
<div class="abs" style="left:629.3px;top:159.7px;font-size:18px;line-height:1;font-weight:normal;color:#262626;white-space:nowrap;transform:scaleX(0.907);transform-origin:0 0;">1-month Performance</div>
<div class="abs" style="left:885.5px;top:160.4px;width:200px;text-align:center;font-size:17.6px;line-height:1;color:#a8303f;white-space:nowrap;transform:scaleX(0.9);transform-origin:50% 0;">-0.04%</div>
<div class="abs" style="left:1329.3px;top:160.4px;width:200px;text-align:center;font-size:17.6px;line-height:1;color:#a8303f;white-space:nowrap;transform:scaleX(0.9);transform-origin:50% 0;">-3.51%</div>
<div class="abs plus" style="left:1171.4px;top:154.8px;"></div>
<div class="abs" style="left:629.3px;top:196.6px;font-size:18px;line-height:1;font-weight:normal;color:#262626;white-space:nowrap;transform:scaleX(0.907);transform-origin:0 0;">3-month Performance</div>
<div class="abs" style="left:885.5px;top:197.3px;width:200px;text-align:center;font-size:17.6px;line-height:1;color:#347240;white-space:nowrap;transform:scaleX(0.9);transform-origin:50% 0;">5.72%</div>
<div class="abs" style="left:1329.3px;top:197.3px;width:200px;text-align:center;font-size:17.6px;line-height:1;color:#347240;white-space:nowrap;transform:scaleX(0.9);transform-origin:50% 0;">3.01%</div>
<div class="abs plus" style="left:1171.4px;top:191.6px;"></div>
<div class="abs" style="left:629.3px;top:233.5px;font-size:18px;line-height:1;font-weight:normal;color:#262626;white-space:nowrap;transform:scaleX(0.907);transform-origin:0 0;">6-month Performance</div>
<div class="abs" style="left:885.5px;top:234.2px;width:200px;text-align:center;font-size:17.6px;line-height:1;color:#347240;white-space:nowrap;transform:scaleX(0.9);transform-origin:50% 0;">4.78%</div>
<div class="abs" style="left:1329.3px;top:234.2px;width:200px;text-align:center;font-size:17.6px;line-height:1;color:#347240;white-space:nowrap;transform:scaleX(0.9);transform-origin:50% 0;">6.31%</div>
<div class="abs plus" style="left:1296.0px;top:228.3px;"></div>
<div class="abs" style="left:629.3px;top:270.4px;font-size:18px;line-height:1;font-weight:normal;color:#262626;white-space:nowrap;transform:scaleX(0.907);transform-origin:0 0;">1-year Performance</div>
<div class="abs" style="left:885.5px;top:271.1px;width:200px;text-align:center;font-size:17.6px;line-height:1;color:#347240;white-space:nowrap;transform:scaleX(0.9);transform-origin:50% 0;">10.48%</div>
<div class="abs" style="left:1329.3px;top:271.1px;width:200px;text-align:center;font-size:17.6px;line-height:1;color:#347240;white-space:nowrap;transform:scaleX(0.9);transform-origin:50% 0;">20.68%</div>
<div class="abs plus" style="left:1296.0px;top:265.1px;"></div>
<div class="abs" style="left:629.3px;top:307.3px;font-size:18px;line-height:1;font-weight:normal;color:#262626;white-space:nowrap;transform:scaleX(0.907);transform-origin:0 0;">2-year Performance</div>
<div class="abs" style="left:885.5px;top:308.0px;width:200px;text-align:center;font-size:17.6px;line-height:1;color:#347240;white-space:nowrap;transform:scaleX(0.9);transform-origin:50% 0;">24.11%</div>
<div class="abs" style="left:1329.3px;top:308.0px;width:200px;text-align:center;font-size:17.6px;line-height:1;color:#347240;white-space:nowrap;transform:scaleX(0.9);transform-origin:50% 0;">38.56%</div>
<div class="abs plus" style="left:1296.0px;top:301.8px;"></div>
<div class="abs" style="left:629.3px;top:344.2px;font-size:18px;line-height:1;font-weight:normal;color:#262626;white-space:nowrap;transform:scaleX(0.907);transform-origin:0 0;">3-year Performance</div>
<div class="abs" style="left:885.5px;top:344.9px;width:200px;text-align:center;font-size:17.6px;line-height:1;color:#347240;white-space:nowrap;transform:scaleX(0.9);transform-origin:50% 0;">30.00%</div>
<div class="abs" style="left:1329.3px;top:344.9px;width:200px;text-align:center;font-size:17.6px;line-height:1;color:#347240;white-space:nowrap;transform:scaleX(0.9);transform-origin:50% 0;">27.36%</div>
<div class="abs plus" style="left:1171.4px;top:338.6px;"></div>
<div class="abs" style="left:622px;top:185.3px;width:883px;height:1px;background:#ebebeb;"></div>
<div class="abs" style="left:622px;top:222.2px;width:883px;height:1px;background:#ebebeb;"></div>
<div class="abs" style="left:622px;top:259.1px;width:883px;height:1px;background:#ebebeb;"></div>
<div class="abs" style="left:622px;top:296.0px;width:883px;height:1px;background:#ebebeb;"></div>
<div class="abs" style="left:622px;top:332.9px;width:883px;height:1px;background:#ebebeb;"></div>
<div class="abs" style="left:852.5px;top:149px;width:1px;height:222px;background:#e8e8e8;"></div>
<div class="abs" style="left:1258px;top:149px;width:1px;height:222px;background:#e8e8e8;"></div>
<!--/TABLE-->
</body></html>
